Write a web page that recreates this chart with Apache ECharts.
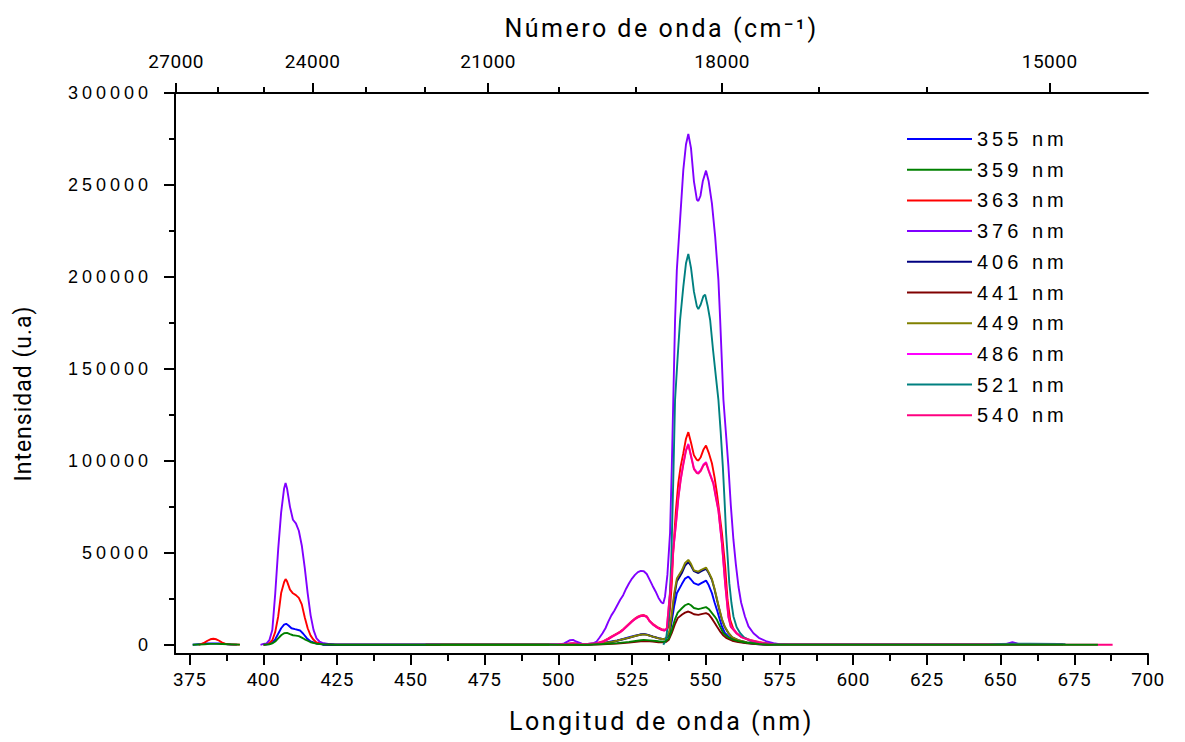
<!DOCTYPE html>
<html>
<head>
<meta charset="utf-8">
<title>Espectros de emisión</title>
<script src="https://cdn.jsdelivr.net/npm/echarts@6/dist/echarts.min.js"></script>
<style>
  html, body { margin: 0; padding: 0; background: #fff; }
  #chart { width: 1185px; height: 742px; }
  /* espaciado ancho de letras, como en Origin */
  #chart text { letter-spacing: 4px; }
  #chart text[style*="Roboto"] { letter-spacing: 0.5px; }
  #chart text[style*="25px"] { letter-spacing: 2.5px; }
  #chart text[style*="23px"] { letter-spacing: 1px; }
</style>
</head>
<body>
<div id="chart"></div>
<script>
// longitudes de onda de excitación (leyenda) y colores
const names = ['355 nm', '359 nm', '363 nm', '376 nm', '406 nm', '441 nm', '449 nm', '486 nm', '521 nm', '540 nm']
const colors = ['#0000ff', '#008000', '#ff0000', '#8000ff', '#000080', '#800000', '#808000', '#ff00ff', '#008080', '#ff0080']

// marcas de los ejes
const xMajor = [375, 400, 425, 450, 475, 500, 525, 550, 575, 600, 625, 650, 675, 700]
const xMinor = [387.5, 412.5, 437.5, 462.5, 487.5, 512.5, 537.5, 562.5, 587.5, 612.5, 637.5, 662.5, 687.5]
const yMajor = [0, 50000, 100000, 150000, 200000, 250000, 300000]
const yMinor = [25000, 75000, 125000, 175000, 225000, 275000]
const kMajor = [27000, 24000, 21000, 18000, 15000] // cm-1
const kMinor = [26000, 25000, 23000, 22000, 20000, 19000, 17000, 16000]

// espectros de emisión [nm, intensidad]
const em355 = [[376,0],[377,200],[379,400],[381,700],[383,800],[385,700],[387,400],[389,200],[391,100],[396,null],
  [400,0],[402,400],[403,1200],[404,3000],[405,6000],[406,9000],[407,11000],[407.7,11400],[408.5,10500],[409.5,9000],[410.7,8500],[412.4,7800],[413.5,6000],[414.7,3600],[416,1800],[418,700],[420,300],[424,0],
  [500,0],[503,300],[505,500],[508,200],[512,400],[515,900],[518,1800],[520,2400],[522,3200],[524,4100],[526,5000],[528,5600],[529,5800],[530,5500],[532,4400],[534,3500],[535.7,3000],[536.5,3400],[537,4200],[537.7,6000],[538.5,13000],[539.3,21000],[540.2,28000],[541.9,33000],[543,36000],[544.1,37100],[545,35500],[546,33500],[547.5,32600],[548.5,33500],[550.1,34900],[551,32500],[552.1,28100],[553,23000],[553.8,19000],[554.7,14000],[555.5,9950],[556.5,6500],[558,4000],[560,2300],[563,1200],[567,400],[571,0],[650,0],[655,400],[665,300],[671,200]]
const em359 = [[376,0],[378,200],[380,300],[382,500],[384,500],[386,400],[388,300],[390,200],[392,100],[396,null],
  [400,0],[402,300],[403,800],[404,1800],[405,3500],[406,5200],[407,6300],[408,6500],[409,5800],[410,5200],[411,5000],[412,4700],[413,3900],[414,3000],[415,2200],[416,1400],[418,600],[420,300],[425,0],
  [510,0],[515,400],[520,900],[524,1600],[528,2500],[529,2700],[531,2400],[534,1900],[535.7,1700],[536.5,2000],[537.5,3500],[538.5,8000],[539.5,13500],[540.5,17500],[542,20000],[543,21500],[544.1,22300],[545,21500],[546,20000],[547.5,19400],[548.5,19800],[550.1,20500],[551,19500],[552,17500],[553,15500],[553.8,13600],[555,9500],[556,6300],[557.5,4200],[559,3000],[561,2000],[564,1100],[568,400],[572,0],[683,0]]
const em363 = [[378,0],[379,500],[380,1200],[381,2200],[382,3000],[383,3300],[384,3000],[385,2200],[386,1200],[387,600],[388,300],[390,200],[392,100],[396,null],
  [400,0],[401,300],[402,1000],[403,2500],[404,7000],[405,15400],[406,28100],[407,34000],[407.5,35700],[408,34500],[409,30000],[410,28000],[411,27000],[412,25500],[413,22000],[414,15000],[415,9000],[416,5000],[417,2700],[418,1300],[420,600],[423,200],[426,0],
  [500,0],[503,600],[505,900],[507,500],[510,400],[513,900],[515,1800],[517,3500],[518,4500],[520,6300],[521,7200],[522,8500],[523,10000],[524,11500],[525,13000],[526,14300],[527,15300],[528,16000],[529,16200],[530,15500],[531,13000],[532,11500],[533,10300],[534,9300],[535,8500],[536,8200],[536.8,8300],[537.4,10000],[538,22000],[538.5,33500],[539,51600],[539.9,73400],[540.7,87900],[541.5,97000],[542.4,104200],[543.3,112000],[544.1,115600],[545,110000],[546,103000],[547,100500],[547.5,100200],[548.3,102000],[549.2,106000],[550.1,108300],[551,104500],[552.1,98700],[553,91000],[553.8,82400],[554.7,71000],[555.5,60700],[556.6,42600],[557.4,24500],[558.3,13600],[559.3,9000],[560.5,6300],[562,4500],[565,2700],[568,1500],[572.8,300],[575,0],[671,0]]
const em376 = [[399,0],[400,500],[401,700],[402,2500],[403,8000],[404,28000],[405,52000],[406,72000],[407,85000],[407.5,88000],[408,85000],[409,75000],[410,68000],[411,66000],[412,62000],[413,54000],[414,42000],[415,28000],[416,16000],[417,8000],[418,3500],[419,1800],[420,1000],[422,500],[424,200],[426,0],
  [500,0],[502,800],[504,2500],[505,2700],[506,1800],[508,600],[510,500],[512,900],[513,1800],[514,4000],[515,6300],[516,9000],[517,12700],[518,16000],[519,18500],[520,21500],[521,24500],[522,27000],[523,30500],[524,33500],[525,36000],[526,38000],[527,39500],[528,40200],[529,40000],[530,38500],[531,35300],[532,32000],[533,29000],[534,25500],[535,23000],[535.6,22500],[536.2,26300],[537,38000],[537.9,60700],[538.5,97000],[539,133200],[539.6,176600],[540.2,203800],[541.3,231000],[542.4,258200],[543.3,272000],[544.1,277700],[545,270000],[546,252000],[547,242000],[547.5,241300],[548.2,244000],[549,252000],[550.1,257800],[551,252000],[552.1,240000],[553.2,221900],[554.3,198400],[554.9,176600],[556,133200],[557,112000],[557.7,96900],[558.5,76000],[559.4,57000],[560.2,44000],[561.1,31700],[562,23000],[563.3,15400],[564.5,10000],[566.2,6300],[568,3800],[570.7,1800],[573,900],[575,300],[578,0],[650,0],[652,500],[654,1500],[656,500],[658,300],[671,200]]
const em406 = [[420,0],[500,0],[510,200],[515,800],[518,1500],[520,2200],[522,3000],[524,3800],[526,4700],[528,5600],[529,5800],[530,5500],[532,4500],[534,3600],[535.7,3100],[536.5,3500],[537,4500],[537.7,6300],[538.5,15400],[539.3,26000],[540.2,34400],[541.9,39000],[543,43000],[544.1,44900],[545,43000],[546,40000],[547.5,39000],[548.5,40000],[550.1,41300],[551,39000],[552.1,35300],[553,30000],[553.8,24500],[554.7,18500],[555.5,13600],[556.5,9500],[557.7,6300],[559,4000],[561,2500],[564,1300],[568,500],[572,0],[671,0]]
const em441 = [[455,0],[510,0],[515,300],[520,700],[524,1200],[528,1900],[530,2000],[532,1700],[534,1400],[535.7,1300],[536.5,1500],[537.5,2800],[538.5,6500],[539.5,11000],[540.5,14500],[542,16500],[543,17500],[544.1,18100],[545,17500],[546,16600],[547.5,16300],[548.5,16700],[550.1,17200],[551,16500],[552,14500],[553,12000],[553.8,9950],[555,7000],[556,5000],[557.1,3600],[559,2200],[561,1500],[564,800],[568,300],[572,0],[671,0]]
const em449 = [[460,0],[500,0],[510,300],[515,900],[518,1600],[520,2300],[522,3100],[524,3900],[526,4800],[528,5500],[529,5700],[530,5400],[532,4400],[534,3500],[535.7,3000],[536.5,3600],[537,5000],[537.7,7500],[538.5,17000],[539.3,28000],[540.2,36000],[541.9,40500],[543,44500],[544.1,46200],[545,44000],[546,40500],[547.5,39800],[548.5,40800],[550.1,42000],[551,39500],[552.1,35800],[553,30500],[553.8,25000],[554.7,19000],[555.5,14000],[556.5,9800],[557.7,6500],[559,4100],[561,2500],[564,1300],[568,500],[572,0],[671,0]]
const em486 = [[497,0],[503,500],[505,800],[507,500],[510,400],[513,800],[515,1600],[517,3200],[518,4200],[520,6000],[521,6900],[522,8200],[523,9700],[524,11200],[525,12700],[526,14000],[527,15000],[528,15700],[529,15900],[530,15200],[531,12800],[532,11200],[533,10000],[534,9000],[535,8200],[536,7800],[536.8,9000],[537.4,20000],[538,30000],[538.5,40000],[539,52000],[539.9,66000],[540.7,80000],[541.5,90000],[542.4,98500],[543.3,106000],[544.1,109200],[545,103000],[546,96000],[547,93800],[547.5,93600],[548.3,95000],[549.2,98000],[550.1,99300],[551,95000],[552.6,87900],[553.5,80000],[554.3,73400],[555.5,55300],[556.6,33500],[557.7,15400],[558.5,10000],[560.5,6300],[562,4300],[565,2500],[568,1300],[573,200],[576,0],[671,0]]
const em521 = [[535.6,0],[536.5,2500],[537.5,15000],[538.3,45000],[539,90000],[539.6,133200],[540.5,157000],[541.3,176600],[542.4,194700],[543.3,207400],[544.1,212500],[545,205000],[546,192000],[547,184000],[547.5,182500],[548.3,185000],[549.2,189500],[549.8,190400],[550.7,183900],[551.5,176600],[552.5,160000],[553.5,145000],[554.3,133200],[555.1,115000],[555.8,96900],[556.4,78000],[556.9,60700],[557.5,46000],[558,33500],[558.7,23000],[559.4,15400],[560.5,9500],[561.7,6300],[563,4000],[565,2200],[568,1000],[572,300],[576,0],[646,0],[650,500],[660,600],[670,500],[672,300]]
const em540 = [[500,0],[503,450],[505,750],[507,450],[510,350],[513,750],[515,1500],[517,3100],[518,4100],[520,5900],[521,6800],[522,8100],[523,9600],[524,11100],[525,12600],[526,13900],[527,14900],[528,15600],[529,15800],[530,15100],[531,12700],[532,11100],[533,9900],[534,8900],[535,8100],[536,7700],[536.8,8800],[537.4,19500],[538,29500],[538.5,39500],[539,51500],[539.9,65500],[540.7,79500],[541.5,89500],[542.4,98000],[543.3,105500],[544.1,108700],[545,102500],[546,95500],[547,93300],[547.5,93100],[548.3,94500],[549.2,97500],[550.1,98800],[551,94500],[552.6,87400],[553.5,79500],[554.3,72900],[555.5,54800],[556.6,33000],[557.7,15000],[558.5,9800],[560.5,6100],[562,4200],[565,2400],[568,1200],[573,200],[576,0],[688,0]]
const spectra = [em355, em359, em363, em376, em406, em441, em449, em486, em521, em540]

const black = '#000'
const cond = 'Roboto'
const wide = 'Liberation Sans'

const myChart = echarts.init(document.getElementById('chart'), null, { renderer: 'svg' })

const tickAxis = (pos, values, len, extra) => Object.assign({
  type: 'value',
  position: pos,
  min: 370,
  max: 700,
  axisLine: { show: false, onZero: false },
  axisTick: { show: true, customValues: values, length: len, lineStyle: { color: black, width: 2 } },
  axisLabel: { show: false },
  splitLine: { show: false }
}, extra || {})

const option = {
  animation: false,
  backgroundColor: '#fff',
  grid: { left: 175, right: 37, top: 93, bottom: 88, containLabel: false, outerBoundsMode: 'none' },
  legend: {
    orient: 'vertical',
    left: 907,
    top: 129,
    padding: 0,
    icon: 'rect',
    itemWidth: 65,
    itemHeight: 2,
    itemGap: 10.7,
    data: names,
    textStyle: { fontFamily: wide, fontSize: 20, lineHeight: 20, color: black }
  },
  xAxis: [
    tickAxis('bottom', xMajor, 11, {
      name: 'Longitud de onda (nm)',
      nameLocation: 'middle',
      nameGap: 55,
      nameTextStyle: { fontFamily: cond, fontSize: 25, color: black },
      axisLine: { show: true, onZero: false, lineStyle: { color: black, width: 2 } },
      axisLabel: { show: true, customValues: xMajor, margin: 16, fontFamily: cond, fontSize: 19, color: black }
    }),
    tickAxis('bottom', xMinor, 7),
    tickAxis('top', kMajor.map(k => 1e7 / k), 10, {
      name: 'Número de onda (cm⁻¹)',
      nameLocation: 'middle',
      nameGap: 52,
      nameTextStyle: { fontFamily: cond, fontSize: 25, color: black },
      axisLine: { show: true, onZero: false, lineStyle: { color: black, width: 2 } },
      axisLabel: {
        show: true,
        customValues: kMajor.map(k => 1e7 / k),
        margin: 22,
        fontFamily: cond,
        fontSize: 19,
        color: black,
        formatter: v => String(Math.round(1e7 / v))
      }
    }),
    tickAxis('top', kMinor.map(k => 1e7 / k), 6)
  ],
  yAxis: [
    {
      type: 'value',
      position: 'left',
      min: -5000,
      max: 300000,
      name: 'Intensidad (u.a)',
      nameLocation: 'middle',
      nameGap: 140,
      nameRotate: 90,
      nameTextStyle: { fontFamily: cond, fontSize: 23, color: black, padding: [0, 40, 0, 0] },
      axisLine: { show: true, onZero: false, lineStyle: { color: black, width: 2 } },
      axisTick: { show: true, customValues: yMajor, length: 11, lineStyle: { color: black, width: 2 } },
      axisLabel: { customValues: yMajor, margin: 23, fontFamily: wide, fontSize: 18, color: black, formatter: v => String(v) },
      splitLine: { show: false }
    },
    {
      type: 'value',
      position: 'left',
      min: -5000,
      max: 300000,
      axisLine: { show: false, onZero: false },
      axisTick: { show: true, customValues: yMinor, length: 6, lineStyle: { color: black, width: 2 } },
      axisLabel: { show: false },
      splitLine: { show: false }
    }
  ],
  series: names.map((n, i) => ({
    name: n,
    type: 'line',
    xAxisIndex: 0,
    yAxisIndex: 0,
    data: spectra[i],
    symbol: 'none',
    showSymbol: false,
    connectNulls: false,
    z: i === 1 ? 3 : 2, // la línea verde queda encima en la base
    itemStyle: { color: colors[i] },
    lineStyle: { color: colors[i], width: 1.9 }
  }))
}
myChart.setOption(option)
</script>
</body>
</html>
